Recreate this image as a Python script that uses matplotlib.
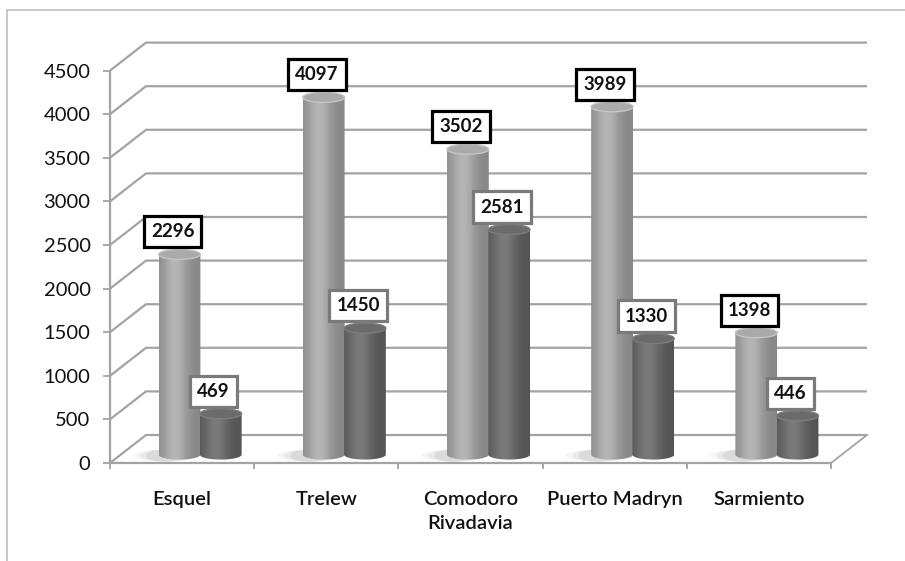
import numpy as np
import matplotlib
matplotlib.use("Agg")
import matplotlib.pyplot as plt
from matplotlib.patches import Ellipse, PathPatch
from matplotlib.path import Path
from matplotlib.lines import Line2D

plt.rcParams['font.family'] = ['Lato', 'DejaVu Sans']

categories = ["Esquel", "Trelew", "Comodoro\nRivadavia", "Puerto Madryn", "Sarmiento"]
series_a = [2296, 4097, 3502, 3989, 1398]
series_b = [469, 1450, 2581, 1330, 446]
yticks = [0, 500, 1000, 1500, 2000, 2500, 3000, 3500, 4000, 4500]

W, H = 905, 561
fig = plt.figure(figsize=(W / 100, H / 100), dpi=100)
PX_CAT = 144.2      # pixels per category
PX_VAL = 0.0872     # pixels per value unit
ax = fig.add_axes([110 / W, (H - 463) / H, 770 / W, 438 / H])
XMAX = 770 / PX_CAT
YMAX = 438 / PX_VAL

DX = 36 / PX_CAT    # depth offset (x)
DY = 28 / PX_VAL    # depth offset (y)
N = len(categories)
GRID = '#a3a3a3'
FS = 14.5
FS_LBL = 13.5

# back wall gridlines + side wall
for v in yticks:
    ax.plot([0, DX, N + DX], [v, v + DY, v + DY], color=GRID, lw=1.6, zorder=1,
            solid_capstyle='butt')
# floor right edge
ax.plot([N, N + DX], [0, DY], color=GRID, lw=1.3, zorder=1)

# axes spines / ticks as front edges
for s in ['top', 'right']:
    ax.spines[s].set_visible(False)
ax.spines['left'].set_bounds(0, 4500)
ax.spines['bottom'].set_bounds(0, N)
for s in ['left', 'bottom']:
    ax.spines[s].set_color(GRID)
    ax.spines[s].set_linewidth(1.6)
ax.set_yticks(yticks)
ax.set_yticklabels([str(v) for v in yticks])
ax.set_xticks(np.arange(N + 1))
ax.set_xticklabels([''] * (N + 1))
ax.set_xticks(np.arange(N) + 0.5, minor=True)
ax.set_xticklabels(categories, minor=True, linespacing=1.5)
ax.tick_params(axis='y', length=5, width=1.3, color=GRID, pad=9, labelsize=FS,
               labelcolor='#111111')
ax.tick_params(axis='x', which='major', length=4.5, width=1.3, color=GRID)
ax.tick_params(axis='x', which='minor', length=0, pad=20, labelsize=FS,
               labelcolor='#111111')
for t in ax.get_xticklabels(minor=True):
    t.set_fontweight('semibold')
ax.set_xlim(0, XMAX)
ax.set_ylim(0, YMAX)
ax.patch.set_alpha(0)

CW = 0.29          # cylinder width (category units)
EH = 10 / PX_VAL   # ellipse height in value units
Y0 = 0.3 * DY      # base level of cylinders (mid depth)


def gradient(base, amp, peak=0.38):
    t = np.linspace(0, 1, 200)
    p = base + amp * np.exp(-((t - peak) / 0.3) ** 2)
    img = np.repeat(p[None, :], 2, axis=0)
    return np.dstack([img, img, img])


def cylinder(xc, value, base, amp, topc, rimc, z):
    top = Y0 + value
    th = np.linspace(np.pi, 2 * np.pi, 60)
    xs = xc + CW / 2 * np.cos(th)
    ys = Y0 + EH / 2 * np.sin(th)
    verts = [(xc - CW / 2, top)] + list(zip(xs, ys)) + [(xc + CW / 2, top), (xc - CW / 2, top)]
    codes = [Path.MOVETO] + [Path.LINETO] * (len(verts) - 2) + [Path.CLOSEPOLY]
    clip = PathPatch(Path(verts, codes), transform=ax.transData, fc='none', ec='none')
    ax.add_patch(clip)
    im = ax.imshow(gradient(base, amp), extent=[xc - CW / 2, xc + CW / 2, Y0 - EH, top],
                   aspect='auto', zorder=z, interpolation='bilinear')
    im.set_clip_path(clip)
    ax.add_patch(Ellipse((xc, top), CW, EH, fc=topc, ec=rimc, lw=1.0, zorder=z + 0.1))


for i in range(N):
    cx = i + 0.5 + DX / 2
    xa = cx - 0.143
    xb = cx + 0.143
    # soft floor shadow left of the light cylinder
    for k, a in zip([1.5, 1.2, 0.9], [0.08, 0.10, 0.14]):
        ax.add_patch(Ellipse((xa - CW * 0.35, Y0 - EH * 0.1), CW * k, EH * 1.2,
                             fc='#808080', ec='none', alpha=a, zorder=2))
    cylinder(xa, series_a[i], 0.53, 0.18, '#aaaaaa', '#c4c4c4', 3)
    cylinder(xb, series_b[i], 0.33, 0.15, '#6b6b6b', '#7c7c7c', 4)

    for x, v, ec in [(xa, series_a[i], 'black'), (xb, series_b[i], '#7a7a7a')]:
        ax.annotate(str(v), xy=(x, Y0 + v + EH / 2), xytext=(-5, 6.5),
                    textcoords='offset points', ha='center', va='bottom',
                    fontsize=FS_LBL, fontweight='bold', color='#111111',
                    bbox=dict(boxstyle='square,pad=0.38', fc='white', ec=ec, lw=2.3),
                    zorder=10)

# outer frame lines of the chart area
fig.add_artist(Line2D([7 / W, 1], [1 - 10 / H, 1 - 10 / H], color='#c0c0c0', lw=1.2))
fig.add_artist(Line2D([7 / W, 7 / W], [0, 1 - 10 / H], color='#c0c0c0', lw=1.2))

fig.savefig('out.png', dpi=100)
